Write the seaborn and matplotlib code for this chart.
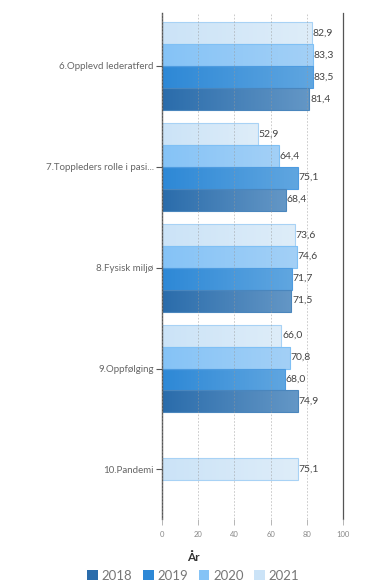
import numpy as np
import pandas as pd
import matplotlib
matplotlib.use("Agg")
import matplotlib.pyplot as plt
import matplotlib.colors as mcolors
from matplotlib.patches import Patch
import seaborn as sns

categories = ["6.Opplevd lederatferd", "7.Toppleders rolle i pasi...", "8.Fysisk miljø", "9.Oppfølging", "10.Pandemi"]
years = ["2018", "2019", "2020", "2021"]
v2018 = [81.4, 68.4, 71.5, 74.9, None]
v2019 = [83.5, 75.1, 71.7, 68.0, None]
v2020 = [83.3, 64.4, 74.6, 70.8, None]
v2021 = [82.9, 52.9, 73.6, 66.0, 75.1]
xticks = [0, 20, 40, 60, 80, 100]

colors = {"2018": "#2a6cab", "2019": "#2d88d6", "2020": "#85c3f6", "2021": "#cbe3f7"}
colors_end = {"2018": "#6497c6", "2019": "#60a6e0", "2020": "#a3d0f7", "2021": "#deedf9"}
edges = {"2018": "#4a86bd", "2019": "#4d9be0", "2020": "#7fc0f5", "2021": "#a8d2f5"}

rows = []
for y, vals in zip(years, [v2018, v2019, v2020, v2021]):
    for c, v in zip(categories[:4], vals[:4]):
        rows.append({"cat": c, "year": y, "val": v})
df = pd.DataFrame(rows)
df_p = pd.DataFrame({"cat": [categories[4]], "val": [v2021[4]]})

sns.set_style("white")
plt.rcParams["font.family"] = ["Lato", "DejaVu Sans"]

fig = plt.figure(figsize=(3.72, 5.83), dpi=100)
ax = fig.add_axes([0.4355, 0.11, 0.4865, 0.868])

hue_order = ["2021", "2020", "2019", "2018"]
sns.barplot(data=df, y="cat", x="val", hue="year", order=categories, hue_order=hue_order,
            palette=colors, width=0.87, ax=ax, legend=False, saturation=1, errorbar=None)
sns.barplot(data=df_p, y="cat", x="val", order=categories, color=colors["2021"],
            width=0.87 / 4, ax=ax, saturation=1, errorbar=None)

ax.set_xlim(0, 100)
ax.set_ylim(4.49, -0.525)

# gradients & labels
cont_years = hue_order + ["2021"]
for cont, yr in zip(ax.containers, cont_years):
    cmap = mcolors.LinearSegmentedColormap.from_list("g", [colors[yr], colors_end[yr]])
    for bar in cont:
        w = bar.get_width()
        if not np.isfinite(w) or w == 0:
            continue
        x0, y0 = bar.get_x(), bar.get_y()
        h = bar.get_height()
        grad = np.linspace(0, 1, 256).reshape(1, -1)
        im = ax.imshow(grad, cmap=cmap, aspect="auto", extent=[x0, x0 + w, y0 + h, y0],
                       zorder=1.5, interpolation="bilinear")
        im.set_clip_path(bar)
        bar.set_facecolor("none")
        bar.set_edgecolor(edges[yr])
        bar.set_linewidth(0.8)
        bar.set_zorder(2)
    labels = [("" if not np.isfinite(b.get_width()) or b.get_width() == 0 else f"{b.get_width():.1f}".replace(".", ",")) for b in cont]
    ax.bar_label(cont, labels=labels, padding=0.5, fontsize=7.5, color="#444444")

ax.set_xlim(0, 100)
ax.set_ylim(4.49, -0.525)
ax.set_xticks(xticks)
ax.set_xticklabels([str(t) for t in xticks])
ax.set_xlabel("")
ax.set_ylabel("")
ax.set_axisbelow(False)
ax.grid(axis="x", color="#999999", linestyle=(0, (2, 2)), linewidth=0.6, alpha=0.6, zorder=3)
ax.grid(axis="y", visible=False)

for s in ["top", "bottom"]:
    ax.spines[s].set_visible(False)
ax.spines["left"].set_color("#555555")
ax.spines["left"].set_linewidth(1.0)
ax.spines["right"].set_color("#555555")
ax.spines["right"].set_linewidth(0.9)

ax.tick_params(axis="y", left=True, length=4, width=0.8, color="#555555", labelsize=7, labelcolor="#666666", pad=2)
ax.tick_params(axis="x", bottom=True, length=4, width=0.6, color="#aaaaaa", labelsize=5.5, labelcolor="#888888", pad=5)

handles = [Patch(facecolor=colors[y], edgecolor="none") for y in years]
leg = fig.legend(handles, years, loc="lower center", bbox_to_anchor=(0.52, -0.018), ncol=4, frameon=False,
                 fontsize=9.5, title="År", handlelength=0.8, handleheight=0.8, handletextpad=0.3,
                 columnspacing=0.8, labelcolor="#777777")
leg.get_title().set_fontweight("bold")
leg.get_title().set_fontsize(8.5)
leg.get_title().set_color("#333333")

fig.savefig("out.png", dpi=100)
